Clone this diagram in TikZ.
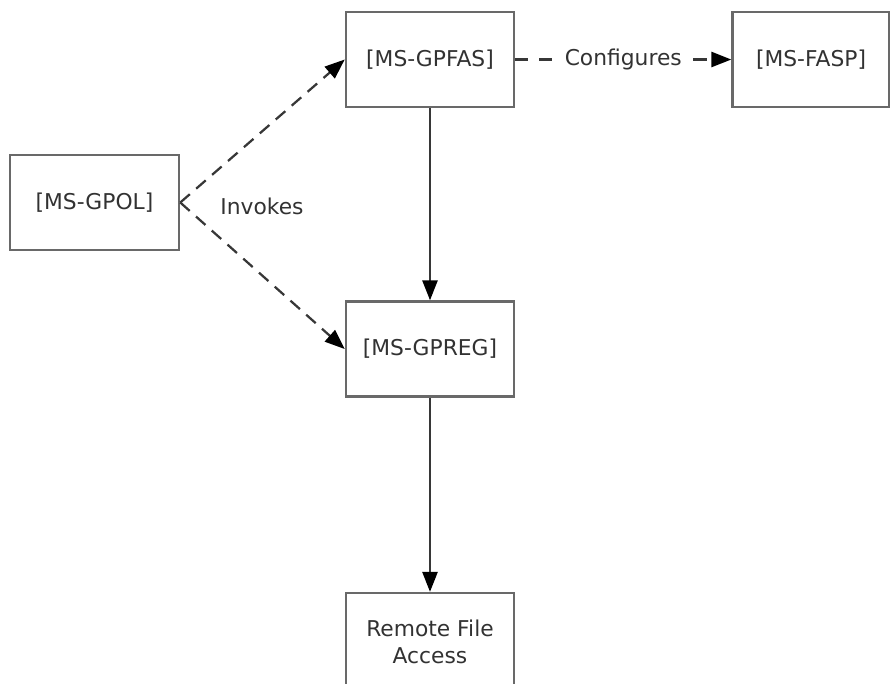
\documentclass[tikz,border=0pt]{standalone}
\usepackage{fontspec}
\setmainfont{DejaVu Sans}
\usepackage{xcolor}
\usetikzlibrary{arrows.meta,positioning}

\definecolor{boxgray}{RGB}{105,105,105}
\definecolor{linegray}{RGB}{55,55,55}
\definecolor{txtgray}{RGB}{50,50,50}

\begin{document}
\begin{tikzpicture}[
  node distance=4.8cm and 5.4cm,
  box/.style={draw=boxgray, line width=1.8pt, align=center, minimum width=4.2cm, minimum height=2.375cm, font=\fontsize{15.5}{19}\selectfont, text=txtgray},
  lbl/.style={font=\fontsize{15.5}{19}\selectfont, text=txtgray},
  arr/.style={-{Triangle[length=0.5cm, width=0.38cm, color=black]}, line width=1.6pt, draw=linegray},
  darr/.style={arr, dash pattern=on 9pt off 6pt}
]
\useasboundingbox (0,0) rectangle (22.25,-17.075);
\node[box] (gpfas) at (10.75,-1.4875) {[MS-GPFAS]};
\node[box, minimum width=3.925cm, right=of gpfas] (fasp) {[MS-FASP]};
\node[box, below=of gpfas] (gpreg) {[MS-GPREG]};
\node[box, below=4.85cm of gpreg, minimum height=2.45cm] (rfa) {Remote File\\Access};
\node[box, minimum width=4.225cm] (gpol) at (2.3625,-5.0625) {[MS-GPOL]};
\node[lbl] (invokes) at (6.55,-5.15) {Invokes};
\path (gpfas) -- node[lbl, inner xsep=8pt] (cfg) {Configures} (fasp);
\draw[darr] (gpol.east) -- (gpfas.west);
\draw[darr] (gpol.east) -- (gpreg.west);
\draw[darr, -, dash pattern=on 9pt off 8pt] (gpfas.east) -- (gpfas.east -| cfg.west);
\draw[darr, dash pattern=on 10pt off 5pt] (fasp.west -| cfg.east) -- (fasp.west);
\draw[arr] (gpfas) -- (gpreg);
\draw[arr] (gpreg) -- (rfa);
\end{tikzpicture}
\end{document}
